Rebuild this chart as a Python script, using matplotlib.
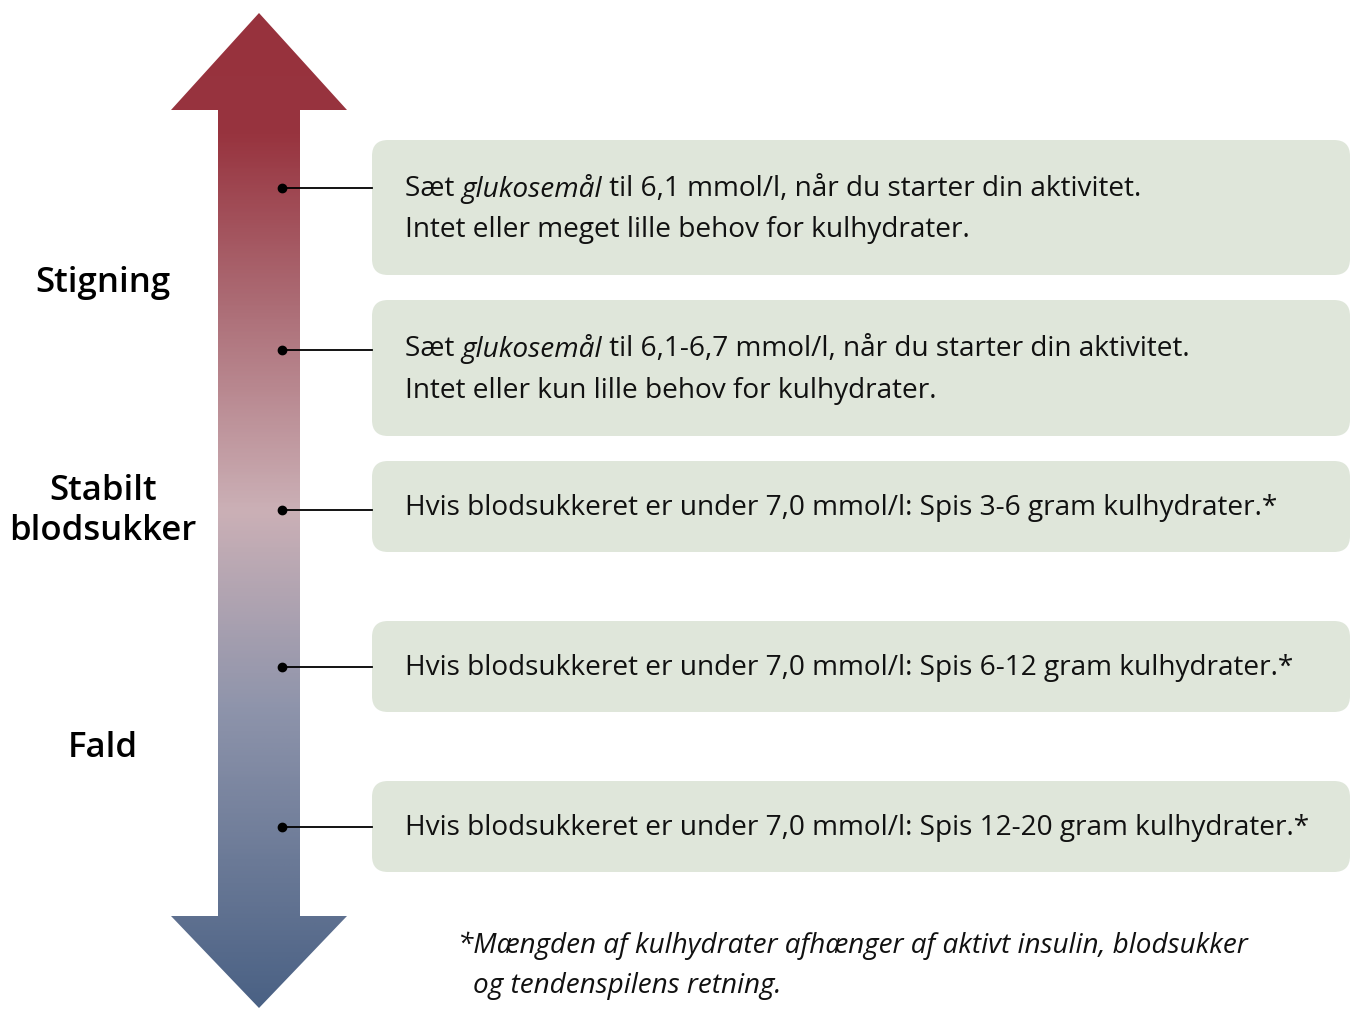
import matplotlib
matplotlib.use('Agg')
import matplotlib.pyplot as plt
import numpy as np
from matplotlib.colors import LinearSegmentedColormap
from matplotlib.patches import FancyBboxPatch, Polygon

plt.rcParams['font.family'] = ['Open Sans', 'DejaVu Sans']

# tekst i boksene: (normal, kursiv, normal) pr. linje
box_lines = [
    [('Sæt ', 'glukosemål', ' til 6,1 mmol/l, når du starter din aktivitet.'),
     ('Intet eller meget lille behov for kulhydrater.', '', '')],
    [('Sæt ', 'glukosemål', ' til 6,1-6,7 mmol/l, når du starter din aktivitet.'),
     ('Intet eller kun lille behov for kulhydrater.', '', '')],
    [('Hvis blodsukkeret er under 7,0 mmol/l: Spis 3-6 gram kulhydrater.*', '', '')],
    [('Hvis blodsukkeret er under 7,0 mmol/l: Spis 6-12 gram kulhydrater.*', '', '')],
    [('Hvis blodsukkeret er under 7,0 mmol/l: Spis 12-20 gram kulhydrater.*', '', '')],
]
side_labels = ['Stigning', 'Stabilt\nblodsukker', 'Fald']
footnote = ['*Mængden af kulhydrater afhænger af aktivt insulin, blodsukker',
            'og tendenspilens retning.']

# layout (pixels)
box_top = [140, 300, 461, 621, 781]
box_bot = [275, 436, 552, 712, 872]
dot_y = [188, 350, 510, 667, 827]
label_y = [283, 511, 748]
gradient_stops = [(0.0, '#97323d'), (0.12, '#98343f'), (0.3, '#ad6f78'),
                  (0.5, '#cbb0b6'), (0.7, '#8e94ab'), (1.0, '#4a6184')]

fig = plt.figure(figsize=(13.54, 10.10), dpi=100)
ax = fig.add_axes([0, 0, 1, 1])
ax.set_xlim(0, 1354)
ax.set_ylim(1010, 0)
ax.axis('off')

# pil med gradient
tip_top, tip_bot = 13, 1008
arrow = Polygon([(259, tip_top), (347, 110), (300, 110), (300, 916), (347, 916),
                 (259, tip_bot), (171, 916), (218, 916), (218, 110), (171, 110)],
                closed=True, facecolor='none', edgecolor='none')
ax.add_patch(arrow)
cmap = LinearSegmentedColormap.from_list('pil', gradient_stops)
grad = np.linspace(0, 1, 500).reshape(-1, 1)
im = ax.imshow(grad, cmap=cmap, aspect='auto', extent=(171, 347, tip_bot, tip_top),
               interpolation='bilinear')
im.set_clip_path(arrow)

for lab, y in zip(side_labels, label_y):
    ax.text(103, y, lab, ha='center', va='center', fontsize=25, fontweight='semibold',
            linespacing=1.2)

fig.canvas.draw()
renderer = fig.canvas.get_renderer()
inv = ax.transData.inverted()

for lines, top, bot, dy in zip(box_lines, box_top, box_bot, dot_y):
    ax.add_patch(FancyBboxPatch((372, top), 978, bot - top,
                                boxstyle='round,pad=0,rounding_size=16',
                                facecolor='#dfe6da', edgecolor='none'))
    mid = (top + bot) / 2
    ax.plot([282, 372], [dy, dy], color='black', lw=1.3)
    ax.plot(282, dy, 'o', color='black', ms=6)
    n = len(lines)
    for i, parts in enumerate(lines):
        y = mid + (i - (n - 1) / 2) * 42 - 1.5
        x = 405
        for j, s in enumerate(parts):
            if not s:
                continue
            t = ax.text(x, y, s, ha='left', va='center_baseline', fontsize=20.2,
                        style='italic' if j == 1 else 'normal', color='#111111')
            bb = t.get_window_extent(renderer)
            x = inv.transform((bb.x1, bb.y0))[0]

ax.text(458, 942, footnote[0], ha='left', va='center_baseline', fontsize=20.1,
        style='italic', color='#111111')
ax.text(473, 982, footnote[1], ha='left', va='center_baseline', fontsize=20.1,
        style='italic', color='#111111')

fig.savefig('out.png', dpi=100)
